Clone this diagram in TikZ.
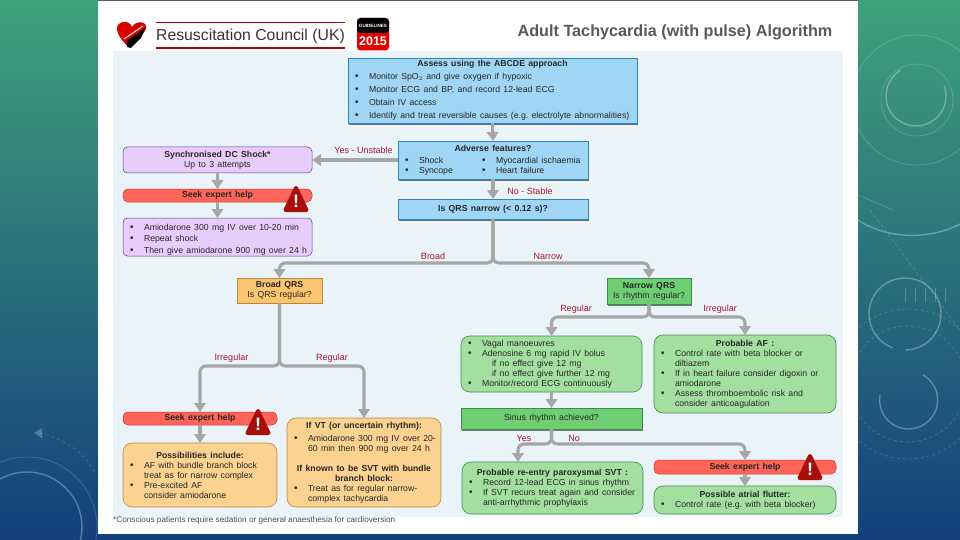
\documentclass[tikz,border=0pt]{standalone}
\usepackage{fontspec}
\setmainfont{Liberation Sans}
\usetikzlibrary{arrows.meta,shadows,calc}
\definecolor{bgtop}{HTML}{3FA27C}
\definecolor{bgmid}{HTML}{2B7A74}
\definecolor{bgbot}{HTML}{143F7C}
\definecolor{panel}{HTML}{EAF3F8}
\definecolor{bluef}{HTML}{A0D6F5}
\definecolor{blued}{HTML}{2F86B4}
\definecolor{purf}{HTML}{E8CCFB}
\definecolor{purd}{HTML}{5A3E9C}
\definecolor{redf}{HTML}{FF6459}
\definecolor{redd}{HTML}{C0392F}
\definecolor{oranf}{HTML}{FBD28F}
\definecolor{orand}{HTML}{B58A3E}
\definecolor{orans}{HTML}{FBC46F}
\definecolor{grnf}{HTML}{A3E09F}
\definecolor{grnd}{HTML}{3F8A4F}
\definecolor{grns}{HTML}{6ECF72}
\definecolor{lab}{HTML}{A5152E}
\definecolor{conn}{HTML}{A6A6A6}
\definecolor{tx}{HTML}{262626}
\definecolor{warnc}{HTML}{A90F0A}
\tikzset{
  x=1pt,y=-1pt,
  base/.style={inner sep=0pt,outer sep=0pt,text=tx,align=left},
  bluebox/.style={base,draw=blued,fill=bluef,line width=.7pt,drop shadow={shadow xshift=1.4pt,shadow yshift=-1.6pt,opacity=.55,fill=black}},
  purbox/.style={base,draw=purd,fill=purf,line width=.5pt,rounded corners=4.5pt},
  seekbox/.style={base,draw=redd,fill=redf,line width=.5pt,rounded corners=5pt},
  oranbox/.style={base,draw=orand,fill=oranf,line width=.6pt,rounded corners=9pt},
  oransq/.style={base,draw=orand,fill=orans,line width=.7pt,drop shadow={shadow xshift=1.2pt,shadow yshift=-1.4pt,opacity=.5,fill=black}},
  grnbox/.style={base,draw=grnd,fill=grnf,line width=.6pt,rounded corners=9pt},
  grnsq/.style={base,draw=grnd,fill=grns,line width=.8pt,drop shadow={shadow xshift=1.2pt,shadow yshift=-1.6pt,opacity=.5,fill=black}},
  lbl/.style={inner sep=0pt,text=lab,font=\fontsize{9}{10}\selectfont},
  flow/.style={draw=conn,line width=3.1pt,rounded corners=6pt,-{Triangle[width=11.5pt,length=9pt]}},
  deco/.style={draw=white,opacity=.22,line width=.6pt},
  decot/.style={draw=white,opacity=.3,line width=1.4pt},
}
\newcommand{\bx}[7][8.7]{%
  \pgfmathsetmacro{\mycx}{(#3+#5)/2}\pgfmathsetmacro{\mycy}{(#4+#6)/2}%
  \pgfmathsetmacro{\mywd}{#5-#3}\pgfmathsetmacro{\myht}{#6-#4}\pgfmathsetmacro{\mytw}{#5-#3-8}%
  \node[#2,minimum width=\mywd pt,minimum height=\myht pt,text width=\mytw pt] (#7) at (\mycx,\mycy) {\frenchspacing\fontsize{#1}{10}\selectfont\bxbody};}
\newcommand{\ct}[1]{{\centering #1\par}}
\newcommand{\bi}[1]{\par\hangindent=17pt\hangafter=1\hspace*{3pt}\makebox[14pt][l]{\fontsize{10}{10}\selectfont •}#1\par}
\newcommand{\warn}[3]{%
  \fill[warnc,draw=warnc,line width=4pt,line join=round] (#2,#3-11) -- (#2+10.5,#3+11) -- (#2-10.5,#3+11) -- cycle;
  \node[inner sep=0pt,text=white,font=\bfseries\fontsize{18}{18}\selectfont] (#1) at (#2,#3+2) {!};}
\begin{document}
\begin{tikzpicture}
\useasboundingbox (0,0) rectangle (960,540);
\shade[top color=bgtop,middle color=bgmid,bottom color=bgbot] (0,0) rectangle (960,540);
\begin{scope}
\clip (0,0) rectangle (960,540);
\draw[deco] (27,527) circle (70);
\draw[decot] (27,527) circle (55);
\draw[deco,dashed] (40,433) .. controls (60,438) and (85,450) .. (96,475);
\fill[white,opacity=.25] (34,433) -- (42,428) -- (42,438) -- cycle;
\draw[deco] (917,100) circle (65);
\draw[decot] (901,70) arc[start angle=240,end angle=-20,radius=30];
\draw[deco] (917,100) circle (36);
\draw[decot] (855,218) .. controls (885,240) and (930,240) .. (960,224);
\draw[deco] (858,195) -- (893,210);
\draw[deco,dashed] (870,210) -- (960,330);
\draw[decot] (905,350) arc[start angle=90,end angle=-250,radius=36];
\draw[decot] (880,395) arc[start angle=190,end angle=-60,radius=29];
\draw[deco,dashed] (908,384) circle (58);
\draw[deco,dashed] (908,384) circle (75);
\foreach \q in {905,915,925,935,945} \draw[deco] (\q,288) -- (\q,302);
\end{scope}
\fill[white] (98,1) rectangle (858,534);
\fill[black!65] (98,0) rectangle (858,1.2);
\fill[panel] (113,51) rectangle (843,517);

% header
\fill[red!85!black] (117,28) .. controls (118,20) and (130,20) .. (132,27) .. controls (135,21) and (147,20) .. (146,28) .. controls (145,35) and (133,42) .. (128,47) .. controls (124,42) and (117,36) .. (117,28) -- cycle;
\fill[black] (127,41) -- (145,28) -- (141,38) -- (131,48) -- (127,47) -- cycle;
\draw[white,line width=.9pt] (124,39) -- (143,26);
\draw[red!70!black,line width=1.1pt] (156,22.5) -- (345,22.5);
\draw[red!70!black,line width=1.1pt] (156,48) -- (345,48);
\node[inner sep=0pt,text=black!80,font=\fontsize{15.8}{17}\selectfont] (rc) at (250.5,36) {Resuscitation Council (UK)};
\fill[red!90!black,rounded corners=3.5pt] (357,18) rectangle (389,50.5);
\fill[black,rounded corners=3.5pt] (357,18) rectangle (389,33);
\fill[black] (357,26) rectangle (389,31);
\node[inner sep=0pt,text=white,font=\bfseries\fontsize{4.6}{5}\selectfont] (gl) at (373,26) {GUIDELINES};
\node[inner sep=0pt,text=white,font=\bfseries\fontsize{12.5}{13}\selectfont] (yr) at (373,41) {2015};
\node[inner sep=0pt,text=black!65,font=\bfseries\fontsize{16.2}{17}\selectfont] (title) at (675,32) {Adult Tachycardia (with pulse) Algorithm};

% boxes
\def\bxbody{\fontsize{8.7}{13}\selectfont\ct{\textbf{Assess using the ABCDE approach}}\bi{Monitor SpO$_2$ and give oxygen if hypoxic}\bi{Monitor ECG and BP, and record 12-lead ECG}\bi{Obtain IV access}\bi{\mbox{Identify and treat reversible causes (e.g. electrolyte abnormalities)}}}
\bx{bluebox}{348}{58}{637}{123}{assess}
\def\bxbody{\fontsize{8.7}{10}\selectfont\ct{\textbf{Adverse features?}}\begin{minipage}[t]{77pt}\bi{Shock}\bi{Syncope}\end{minipage}\begin{minipage}[t]{105pt}\bi{Myocardial ischaemia}\bi{Heart failure}\end{minipage}}
\bx{bluebox}{398}{141}{588}{179}{adverse}
\def\bxbody{\ct{\textbf{Is QRS narrow (< 0.12 s)?}}}
\bx{bluebox}{398}{199}{588}{219}{qrs}
\def\bxbody{\ct{\textbf{Synchronised DC Shock*}}\ct{Up to 3 attempts}}
\bx{purbox}{123}{147}{312}{173}{sync}
\def\bxbody{\ct{\textbf{Seek expert help}}}
\bx{seekbox}{123}{189}{312}{202}{seekA}
\def\bxbody{\fontsize{8.7}{11.7}\selectfont\bi{Amiodarone 300 mg IV over 10-20 min}\bi{Repeat shock}\bi{Then give amiodarone 900 mg over 24 h}}
\bx{purbox}{123}{218}{312}{256}{amio}
\def\bxbody{\ct{\textbf{Broad QRS}}\ct{Is QRS regular?}}
\bx{oransq}{237}{278}{322}{303}{broad}
\def\bxbody{\ct{\textbf{Narrow QRS}}\ct{Is rhythm regular?}}
\bx{grnsq}{607}{278}{691}{304}{narrow}
\def\bxbody{\ct{\textbf{Seek expert help}}}
\bx{seekbox}{123}{412}{277}{425}{seekB}
\def\bxbody{\ct{\textbf{Possibilities include:}}\bi{AF with bundle branch block\newline treat as for narrow complex}\bi{Pre-excited AF\newline consider amiodarone}}
\bx{oranbox}{123}{443}{277}{507}{poss}
\def\bxbody{\vspace*{3pt}\ct{\textbf{If VT (or uncertain rhythm):}}\bi{Amiodarone 300 mg IV over 20-\newline 60 min then 900 mg over 24 h}\vspace{10pt}\ct{\textbf{If known to be SVT with bundle}}\ct{\textbf{branch block:}}\bi{Treat as for regular narrow-\newline complex tachycardia}}
\bx{oranbox}{287}{418}{441}{507}{vt}
\def\bxbody{\bi{Vagal manoeuvres}\bi{Adenosine 6 mg rapid IV bolus}\par\hspace*{27pt}if no effect give 12 mg\par\hspace*{27pt}if no effect give further 12 mg\par\bi{Monitor/record ECG continuously}\vspace{3pt}}
\bx{grnbox}{461}{336}{642}{392}{vagal}
\def\bxbody{\ct{\textbf{Probable AF :}}\bi{Control rate with beta blocker or\newline diltiazem}\bi{If in heart failure consider digoxin or\newline amiodarone}\bi{Assess thromboembolic risk and\newline consider anticoagulation}}
\bx{grnbox}{654}{335}{836}{413}{paf}
\def\bxbody{\ct{Sinus rhythm achieved?}}
\bx{grnsq}{461}{408}{642}{429}{sinus}
\def\bxbody{\ct{\textbf{Probable re-entry paroxysmal SVT :}}\bi{Record 12-lead ECG in sinus rhythm}\bi{If SVT recurs treat again and consider\newline anti-arrhythmic prophylaxis}}
\bx{grnbox}{462}{462}{643}{514}{reentry}
\def\bxbody{\ct{\textbf{Seek expert help}}}
\bx{seekbox}{654}{460}{836}{474}{seekC}
\def\bxbody{\ct{\textbf{Possible atrial flutter:}}\bi{Control rate (e.g. with beta blocker)}}
\bx{grnbox}{654}{486}{836}{514}{flutter}

% connectors
\coordinate (jq) at (qrs.south |- 0,263);
\coordinate (jb) at (broad.south |- 0,366);
\coordinate (jn) at (narrow.south |- 0,317);
\coordinate (js) at (sinus.south |- 0,444);
\coordinate (reN) at (518,462);
\draw[flow] (assess.south) -- (adverse.north);
\draw[flow] (adverse.south) -- (qrs.north);
\draw[flow] (adverse.west) -- (sync.east);
\draw[flow] (sync.south) -- (seekA.north);
\draw[flow] (seekA.south) -- (amio.north);
\draw[flow] (qrs.south) -- (jq) -| (broad.north);
\draw[flow] (qrs.south) -- (jq) -| (narrow.north);
\draw[flow] (broad.south) -- (jb) -| (seekB.north);
\draw[flow] (broad.south) -- (jb) -| (vt.north);
\draw[flow] (seekB.south) -- (poss.north);
\draw[flow] (narrow.south) -- (jn) -| (vagal.north);
\draw[flow] (narrow.south) -- (jn) -| (paf.north);
\draw[flow] (vagal.south) -- (sinus.north);
\draw[flow] (sinus.south) -- (js) -| (reN);
\draw[flow] (sinus.south) -- (js) -| (seekC.north);
\draw[flow] (seekC.south) -- (flutter.north);

% warnings
\warn{wA}{296}{199}
\warn{wB}{258}{422}
\warn{wC}{810}{467}

% labels
\node[lbl] (l1) at (363.5,150) {Yes - Unstable};
\node[lbl] (l2) at (530,191.5) {No - Stable};
\node[lbl] (l3) at (433,256) {Broad};
\node[lbl] (l4) at (548,256) {Narrow};
\node[lbl] (l5) at (231.5,358) {Irregular};
\node[lbl] (l6) at (332,358) {Regular};
\node[lbl] (l7) at (576,309) {Regular};
\node[lbl] (l8) at (720,309) {Irregular};
\node[lbl] (l9) at (524,438) {Yes};
\node[lbl] (l10) at (574,438) {No};
\node[inner sep=0pt,text=black!70,font=\fontsize{8.2}{9}\selectfont,anchor=west] (foot) at (113,520.5) {*Conscious patients require sedation or general anaesthesia for cardioversion};
\end{tikzpicture}
\end{document}
